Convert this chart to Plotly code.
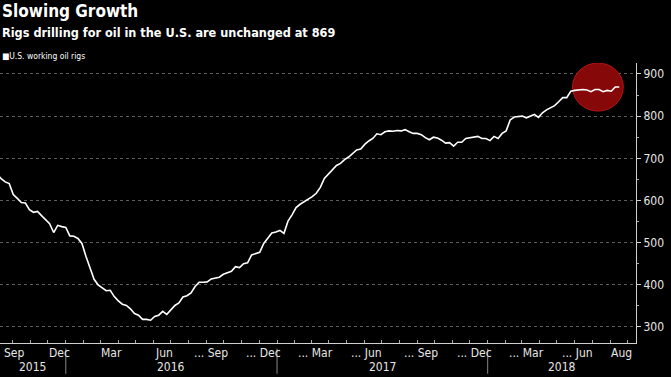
import pandas as pd
import plotly.graph_objects as go

# ---- data (weekly U.S. oil rig count) ----
start_date = "2015-08-28"
rig_counts = [
    675, 662, 652, 644, 640, 614, 605, 595, 594, 578, 572, 574, 564, 555,
    545, 524, 541, 538, 536,
    516, 515, 510, 498, 467, 439, 413, 400, 392, 386, 387, 372, 362, 354,
    351, 343, 332, 328, 318, 318, 316, 325, 328, 337, 330, 341, 351, 357,
    371, 374, 381, 396, 406, 406, 407, 414, 416, 418, 425, 428, 432, 443,
    441, 450, 452, 471, 474, 477, 498, 510, 523, 525,
    529, 522, 551, 566, 583, 591, 597, 602, 609, 617, 631, 652, 662, 672,
    683, 688, 697, 703, 712, 720, 722, 733, 741, 747, 758, 756, 763, 765,
    764, 766, 765, 768, 763, 759, 759, 756, 749, 744, 750, 748, 743, 736,
    737, 729, 738, 738, 747, 749, 751, 752, 747, 747,
    742, 752, 747, 759, 765, 791, 798, 799, 800, 796, 800, 804, 797, 808,
    815, 820, 825, 834, 844, 844, 859, 861, 862, 863, 862, 858, 863, 863,
    858, 861, 859, 869, 869,
]
dates = pd.date_range(start_date, periods=len(rig_counts), freq="W-FRI")

month_tick_dates = ["2015-09-01", "2015-12-01", "2016-03-01", "2016-06-01",
                    "2016-09-01", "2016-12-01", "2017-03-01", "2017-06-01",
                    "2017-09-01", "2017-12-01", "2018-03-01", "2018-06-01",
                    "2018-08-01"]
month_labels = ["Sep", "Dec", "Mar", "Jun", "... Sep", "... Dec", "... Mar",
                "... Jun", "... Sep", "... Dec", "... Mar", "... Jun", "Aug"]
year_labels = ["2015", "2016", "2017", "2018"]
year_starts = ["2016-01-01", "2017-01-01", "2018-01-01"]
y_ticks = [300, 400, 500, 600, 700, 800, 900]
y_minor_ticks = [350, 450, 550, 650, 750, 850]

title = "Slowing Growth"
subtitle = "Rigs drilling for oil in the U.S. are unchanged at 869"
series_name = "U.S. working oil rigs"

x_range = ["2015-09-09", "2018-09-15"]
y_range = [262, 926]

FONT = "Liberation Sans Narrow, DejaVu Sans Condensed, Roboto, sans-serif"
TXT = "#e6e6e6"

fig = go.Figure()
fig.add_trace(go.Scatter(
    x=dates, y=rig_counts, mode="lines", name=series_name,
    line=dict(color="#ffffff", width=1.6), showlegend=False,
    hovertemplate="%{x|%b %d, %Y}: %{y}<extra></extra>",
))

# highlight circle around latest readings
fig.add_shape(type="circle", xref="x", yref="y", layer="between",
              x0="2018-05-28", x1="2018-08-24", y0=812, y1=926,
              fillcolor="rgb(135,8,8)", line=dict(color="rgb(185,20,20)", width=1))

annotations = []
rs = pd.Timestamp(x_range[0])
re_ = pd.Timestamp(x_range[1])
# month labels
for i, (d, lab) in enumerate(zip(month_tick_dates, month_labels)):
    ts = pd.Timestamp(d)
    if i == len(month_labels) - 1:
        annotations.append(dict(x=re_, y=0, xref="x", yref="paper", text=lab,
                                xanchor="right", yanchor="top", yshift=-1, xshift=-2,
                                showarrow=False, font=dict(size=12, color=TXT, family=FONT)))
        continue
    xpos = max(ts, rs)
    shift = -15 if lab.startswith("...") else -1
    if ts < rs:
        shift = 2
    annotations.append(dict(x=xpos, y=0, xref="x", yref="paper", text=lab,
                            xanchor="left", yanchor="top", yshift=-1, xshift=shift,
                            showarrow=False, font=dict(size=12, color=TXT, family=FONT)))
# year labels centred in the visible span of each year
bounds = [rs] + [pd.Timestamp(d) for d in year_starts] + [re_]
for i, lab in enumerate(year_labels):
    mid = bounds[i] + (bounds[i + 1] - bounds[i]) / 2
    annotations.append(dict(x=mid, y=0, xref="x", yref="paper", text=lab,
                            xanchor="center", yanchor="top", yshift=-15,
                            showarrow=False, font=dict(size=12, color=TXT, family=FONT)))
# year separators
for d in year_starts:
    fig.add_shape(type="line", xref="x", yref="paper", x0=d, x1=d, y0=-0.02, y1=-0.11,
                  line=dict(color="#888888", width=1))

# titles and legend
annotations.append(dict(x=0, y=1, xref="paper", yref="paper", xanchor="left", yanchor="top",
                        text=title, showarrow=False, yshift=64,
                        font=dict(size=17, color="#ffffff", family=FONT, weight="bold")))
annotations.append(dict(x=0, y=1, xref="paper", yref="paper", xanchor="left", yanchor="top",
                        text=subtitle, showarrow=False, yshift=40,
                        font=dict(size=12.6, color="#ffffff", family=FONT, weight="bold")))
annotations.append(dict(x=0, y=1, xref="paper", yref="paper", xanchor="left", yanchor="top",
                        text="■" + series_name, showarrow=False, yshift=14,
                        font=dict(size=8.5, color="#ffffff", family=FONT)))

fig.update_layout(
    width=671, height=377,
    margin=dict(l=0, r=35, t=63, b=34),
    paper_bgcolor="#000000", plot_bgcolor="#000000",
    font=dict(family=FONT, color=TXT),
    annotations=annotations,
    showlegend=False,
)
fig.update_xaxes(range=x_range, type="date", showgrid=False, zeroline=False,
                 showticklabels=False, showline=True, linecolor="#d0d0d0", linewidth=1,
                 ticks="inside", dtick="M1", tick0="2015-09-01", ticklen=3,
                 tickcolor="#aaaaaa")
fig.update_yaxes(range=y_range, side="right", showgrid=True, gridcolor="#5e5e5e",
                 griddash="dot", gridwidth=1, zeroline=False,
                 tickvals=y_ticks,
                 ticks="outside", ticklen=4, tickcolor="#d0d0d0",
                 showline=True, linecolor="#d0d0d0", linewidth=1,
                 tickfont=dict(size=12, color=TXT, family=FONT),
                 minor=dict(tickvals=y_minor_ticks, ticks="outside",
                            ticklen=2, tickcolor="#aaaaaa", showgrid=False))

fig.write_html("out.html", config={"displayModeBar": False},
               post_script="document.body.style.margin='0px';document.body.style.background='#000';")
